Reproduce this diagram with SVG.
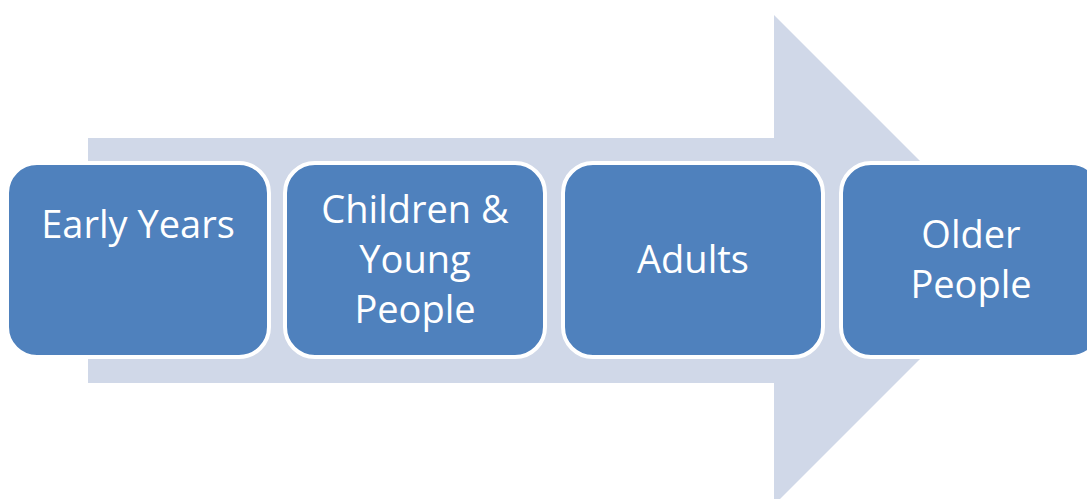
<svg xmlns="http://www.w3.org/2000/svg" width="1087" height="499" viewBox="0 0 1087 499">
  <style>
    .stage { fill: #4F81BD; stroke: #FFFFFF; stroke-width: 4; }
    .label { font-family: "Open Sans", "Liberation Sans", Arial, sans-serif; font-size: 38px; fill: #FFFFFF; text-anchor: middle; }
  </style>
  <rect width="1087" height="499" fill="#FFFFFF"/>

  <!-- background process arrow -->
  <g id="connectors">
    <path d="M88,138 H774 V15 L1019,260 L774,505 V383 H88 Z" fill="#D0D8E8"/>
  </g>

  <g id="node-early-years">
    <rect class="stage" x="7" y="163" width="262" height="194" rx="30" ry="30"/>
    <text class="label" x="138" y="238">Early Years</text>
  </g>

  <g id="node-children">
    <rect class="stage" x="285" y="163" width="260" height="194" rx="30" ry="30"/>
    <text class="label" x="415" y="223">Children &amp;</text>
    <text class="label" x="415" y="273">Young</text>
    <text class="label" x="415" y="323">People</text>
  </g>

  <g id="node-adults">
    <rect class="stage" x="563" y="163" width="260" height="194" rx="30" ry="30"/>
    <text class="label" x="693" y="273">Adults</text>
  </g>

  <g id="node-older-people">
    <rect class="stage" x="841" y="163" width="260" height="194" rx="30" ry="30"/>
    <text class="label" x="971" y="248">Older</text>
    <text class="label" x="971" y="298">People</text>
  </g>
</svg>
